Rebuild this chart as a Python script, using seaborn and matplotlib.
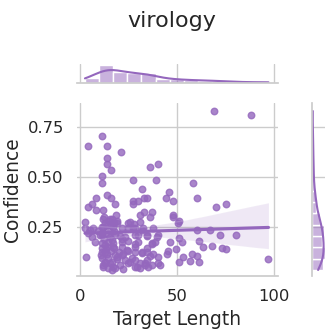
import matplotlib
matplotlib.use("Agg")
import matplotlib.pyplot as plt
import pandas as pd
import seaborn as sns

subject = "virology"
x_label = "Target Length"
y_label = "Confidence"
x_ticks = [0, 50, 100]
y_ticks = [0.25, 0.50, 0.75]

# target length / confidence
target_length = [
    69.2, 88.1, 11.2, 4.0, 14.1, 21.1, 14.1, 14.1, 16.1, 36.1, 40.2, 11.2, 11.2, 27.1, 39.0,
    58.1, 32.1, 46.0, 60.1, 14.1, 16.1, 8.1, 6.0, 4.0, 8.1, 12.0, 18.0, 27.1, 27.1, 30.1,
    33.2, 34.5, 44.2, 48.1, 70.1, 75.1, 31.1, 33.2, 37.1, 48.1,
    51.0, 60.1, 67.2, 72.0, 80.3, 51.0, 52.6, 61.3, 63.2, 68.0, 73.0, 75.4, 97.1, 45.2, 49.3,
    52.9, 51.0, 57.9, 60.1, 56.9, 61.3, 40.2, 40.2, 37.0, 33.5,
    2.6, 16.3, 18.9, 15.0, 25.8, 30.9, 36.0, 48.0, 50.7, 6.9, 12.0, 17.2, 21.5, 27.5, 32.6,
    37.8, 5.2, 9.5, 6.0, 10.3, 14.6, 20.6, 24.9, 30.0, 34.4, 40.4, 16.3, 21.5, 11.5, 12.9,
    17.2, 24.0, 28.4, 34.4, 37.0, 3.1, 11.0, 13.7, 18.9, 22.3, 26.6, 31.8, 36.0, 44.7, 11.8,
    15.5, 17.2, 20.6, 25.8, 29.2, 33.5, 41.2, 12.9, 16.3, 14.6, 12.0, 18.0, 24.9, 28.4,
    19.1, 15.6, 24.9, 28.0, 4.3, 2.6, 11.2, 14.6, 24.9, 28.4, 31.8, 34.4, 39.5, 28.4, 18.0,
    23.2, 11.4, 7.8, 14.6, 11.2, 21.5, 28.4, 30.1, 38.7, 46.4, 37.3, 11.5, 11.6, 12.9, 17.5,
    20.1, 21.5, 24.9, 28.4, 31.8, 34.4, 37.8, 14.6, 18.9, 23.2, 28.4, 34.4, 16.3, 12.9,
    30.9, 18.0, 21.5, 13.7, 22.0, 31.0, 35.0,
    11.5, 13.0, 16.0, 17.5, 12.5, 15.5, 16.8, 13.2, 15.8, 11.8, 17.8, 14.0, 12.2, 18.5,
]
confidence = [
    0.830, 0.810, 0.707, 0.655, 0.653, 0.623, 0.595, 0.565, 0.533, 0.548, 0.565, 0.503, 0.470, 0.487, 0.487,
    0.472, 0.440, 0.425, 0.395, 0.410, 0.395, 0.395, 0.367, 0.352, 0.337, 0.337, 0.365, 0.380, 0.365, 0.380,
    0.393, 0.393, 0.393, 0.380, 0.350, 0.365, 0.308, 0.323, 0.323, 0.308,
    0.282, 0.237, 0.237, 0.210, 0.210, 0.197, 0.177, 0.180, 0.150, 0.155, 0.143, 0.140, 0.088, 0.130, 0.140,
    0.100, 0.077, 0.113, 0.103, 0.082, 0.077, 0.100, 0.068, 0.060, 0.060,
    0.277, 0.290, 0.280, 0.282, 0.273, 0.277, 0.300, 0.300, 0.268, 0.243, 0.252, 0.252, 0.243, 0.247, 0.243,
    0.247, 0.235, 0.230, 0.200, 0.210, 0.213, 0.207, 0.180, 0.210, 0.207, 0.210, 0.185, 0.190, 0.143, 0.160,
    0.152, 0.135, 0.152, 0.143, 0.163, 0.100, 0.110, 0.113, 0.102, 0.113, 0.093, 0.118, 0.107, 0.113, 0.060,
    0.068, 0.052, 0.060, 0.077, 0.052, 0.068, 0.060, 0.068, 0.035, 0.045, 0.050, 0.045, 0.068, 0.050,
    0.272, 0.290, 0.272, 0.265, 0.218, 0.243, 0.252, 0.235, 0.243, 0.243, 0.235, 0.210, 0.200, 0.210, 0.210,
    0.200, 0.210, 0.177, 0.177, 0.168, 0.177, 0.163, 0.177, 0.177, 0.177, 0.168, 0.093, 0.127, 0.127, 0.143,
    0.127, 0.152, 0.130, 0.127, 0.127, 0.123, 0.113, 0.095, 0.092, 0.085, 0.085, 0.085, 0.077, 0.077,
    0.068, 0.110, 0.110, 0.152, 0.040, 0.045, 0.050,
    0.220, 0.270, 0.260, 0.230, 0.190, 0.200, 0.170, 0.140, 0.130, 0.290, 0.270, 0.260, 0.300, 0.310,
]

df = pd.DataFrame({x_label: target_length, y_label: confidence})

sns.set_theme(style="whitegrid")
plt.rcParams.update({
    "font.family": ["DejaVu Sans"],
    "axes.labelsize": 13.4,
    "xtick.labelsize": 11.8,
    "ytick.labelsize": 11.8,
})

g = sns.jointplot(data=df, x=x_label, y=y_label, kind="reg", color="tab:purple",
                  joint_kws={"scatter_kws": {"s": 22}})
fig = g.figure
fig.set_size_inches(3.33, 3.35)

g.ax_joint.set_position([0.2312, 0.1761, 0.6036, 0.5164])
g.ax_marg_x.set_position([0.2312, 0.7537, 0.6036, 0.0552])
g.ax_marg_y.set_position([0.9384, 0.1761, 0.039, 0.5164])

g.ax_joint.set_xlim(-1.5, 102)
g.ax_joint.set_ylim(0.005, 0.87)
g.ax_joint.set_xticks(x_ticks)
g.ax_joint.set_yticks(y_ticks)
g.ax_joint.spines["left"].set_visible(False)

fig.text(0.517, 0.919, subject, ha="center", va="baseline", fontsize=16)

fig.savefig("out.png", dpi=100)
